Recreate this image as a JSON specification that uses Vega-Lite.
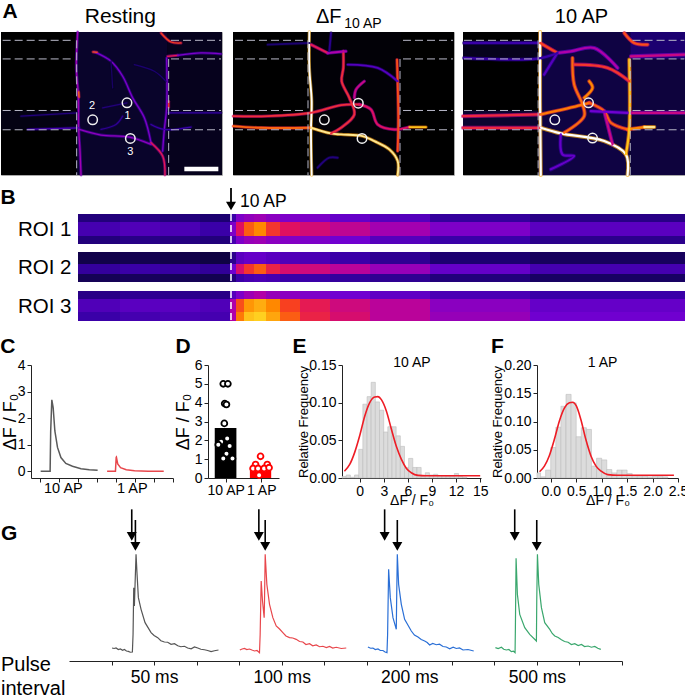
{
"$schema":"https://vega.github.io/schema/vega-lite/v6.json",
"padding":0,
"background":"white",
"config":{"font":"Liberation Sans","view":{"stroke":null},"axis":{"grid":false,"domainColor":"#222","tickColor":"#222","labelColor":"#000","titleColor":"#000","labelFontSize":14,"titleFontWeight":"normal","tickSize":4,"labelPadding":2,"labelOverlap":false,"labelFlush":false,"tickCount":30}},
"datasets":{
"a1":[
{"b":"a","x":230,"y":92,"v":0.48},{"b":"a","x":226,"y":200,"v":0.48},{"b":"a","x":232,"y":280,"v":0.48},{"b":"a","x":233,"y":380,"v":0.48},{"b":"a","x":237,"y":450,"v":0.48},{"b":"a","x":240,"y":522,"v":0.48},
{"b":"a2","x":233,"y":272,"v":0.75},{"b":"a2","x":234,"y":288,"v":0.75},
{"b":"c","x":280,"y":152,"v":0.42},{"b":"c","x":330,"y":180,"v":0.42},{"b":"c","x":365,"y":225,"v":0.42},{"b":"c","x":395,"y":290,"v":0.42},{"b":"c","x":430,"y":350,"v":0.42},{"b":"c","x":450,"y":425,"v":0.42},
{"b":"d","x":450,"y":425,"v":0.62},{"b":"d","x":485,"y":465,"v":0.62},{"b":"d","x":492,"y":522,"v":0.62},
{"b":"e","x":235,"y":385,"v":0.45},{"b":"e","x":300,"y":402,"v":0.45},{"b":"e","x":385,"y":408,"v":0.45},{"b":"e","x":450,"y":430,"v":0.45},
{"b":"f","x":480,"y":95,"v":0.7},{"b":"f","x":510,"y":122,"v":0.7},{"b":"f","x":540,"y":125,"v":0.7},
{"b":"g","x":500,"y":165,"v":0.62},{"b":"g","x":530,"y":162,"v":0.62},
{"b":"h","x":530,"y":162,"v":0.42},{"b":"h","x":600,"y":155,"v":0.42},{"b":"h","x":660,"y":158,"v":0.42},
{"b":"i","x":497,"y":170,"v":0.42},{"b":"i","x":497,"y":320,"v":0.42},{"b":"i","x":490,"y":385,"v":0.42},{"b":"i","x":485,"y":450,"v":0.42},
{"b":"i2","x":503,"y":300,"v":0.68},{"b":"i2","x":503,"y":318,"v":0.68},
{"b":"j","x":60,"y":345,"v":0.22},{"b":"j","x":230,"y":335,"v":0.22},
{"b":"k","x":80,"y":385,"v":0.33},{"b":"k","x":235,"y":380,"v":0.33},
{"b":"l","x":500,"y":335,"v":0.28},{"b":"l","x":660,"y":335,"v":0.28},
{"b":"m","x":450,"y":370,"v":0.3},{"b":"m","x":490,"y":385,"v":0.3},{"b":"m","x":570,"y":378,"v":0.3},
{"b":"n","x":305,"y":320,"v":0.22},{"b":"n","x":378,"y":305,"v":0.22},
{"b":"o","x":300,"y":385,"v":0.26},{"b":"o","x":345,"y":370,"v":0.26},{"b":"o","x":365,"y":345,"v":0.26},
{"b":"p","x":330,"y":180,"v":0.18},{"b":"p","x":335,"y":260,"v":0.18},
{"b":"q","x":400,"y":190,"v":0.2},{"b":"q","x":460,"y":210,"v":0.2},{"b":"q","x":495,"y":240,"v":0.2},
{"b":"r","x":276,"y":152,"v":0.72},{"b":"r","x":288,"y":153,"v":0.72}
],
"a2":[
{"b":"a","x":925,"y":92,"v":1},{"b":"a","x":925,"y":200,"v":1},{"b":"a","x":932,"y":300,"v":1},{"b":"a","x":930,"y":385,"v":1},{"b":"a","x":932,"y":522,"v":1},
{"b":"b","x":697,"y":345,"v":0.66},{"b":"b","x":800,"y":345,"v":0.66},{"b":"b","x":930,"y":335,"v":0.66},{"b":"b","x":1020,"y":312,"v":0.66},{"b":"b","x":1075,"y":310,"v":0.66},
{"b":"b2","x":1075,"y":310,"v":0.6},{"b":"b2","x":1110,"y":325,"v":0.6},{"b":"b2","x":1130,"y":370,"v":0.6},{"b":"b2","x":1180,"y":385,"v":0.6},{"b":"b2","x":1225,"y":378,"v":0.6},
{"b":"c","x":1225,"y":378,"v":0.88},{"b":"c","x":1275,"y":378,"v":0.88},
{"b":"d","x":697,"y":375,"v":0.75},{"b":"d","x":780,"y":380,"v":0.75},{"b":"d","x":930,"y":380,"v":0.75},
{"b":"e","x":930,"y":380,"v":0.95},{"b":"e","x":990,"y":397,"v":0.95},{"b":"e","x":1020,"y":400,"v":0.95},{"b":"e","x":1085,"y":405,"v":0.95},{"b":"e","x":1120,"y":420,"v":0.95},{"b":"e","x":1165,"y":445,"v":0.95},{"b":"e","x":1190,"y":480,"v":0.95},{"b":"e","x":1190,"y":522,"v":0.95},
{"b":"f","x":1027,"y":150,"v":0.66},{"b":"f","x":1027,"y":200,"v":0.66},{"b":"f","x":1022,"y":240,"v":0.66},{"b":"f","x":1045,"y":290,"v":0.66},{"b":"f","x":1060,"y":340,"v":0.66},{"b":"f","x":1020,"y":380,"v":0.66},{"b":"f","x":990,"y":397,"v":0.66},
{"b":"g","x":930,"y":130,"v":0.62},{"b":"g","x":980,"y":155,"v":0.62},
{"b":"g2","x":980,"y":155,"v":0.5},{"b":"g2","x":1035,"y":150,"v":0.5},
{"b":"g3","x":990,"y":95,"v":0.25},{"b":"g3","x":985,"y":150,"v":0.25},
{"b":"h","x":1060,"y":290,"v":0.55},{"b":"h","x":1065,"y":265,"v":0.55},{"b":"h","x":1090,"y":240,"v":0.55},
{"b":"i","x":1188,"y":175,"v":0.72},{"b":"i","x":1192,"y":350,"v":0.72},{"b":"i","x":1190,"y":450,"v":0.72},
{"b":"j","x":1040,"y":190,"v":0.35},{"b":"j","x":1130,"y":200,"v":0.35},{"b":"j","x":1190,"y":240,"v":0.35},
{"b":"k","x":950,"y":500,"v":0.22},{"b":"k","x":985,"y":470,"v":0.22},{"b":"k","x":1010,"y":470,"v":0.22},
{"b":"l","x":800,"y":130,"v":0.2},{"b":"l","x":925,"y":125,"v":0.2}
],
"a3":[
{"b":"a","x":598,"y":92,"v":1},{"b":"a","x":598,"y":300,"v":1},{"b":"a","x":600,"y":522,"v":1},
{"b":"b","x":367,"y":380,"v":0.65},{"b":"b","x":600,"y":380,"v":0.65},
{"b":"b2","x":600,"y":380,"v":1},{"b":"b2","x":660,"y":397,"v":1},{"b":"b2","x":790,"y":420,"v":1},{"b":"b2","x":855,"y":460,"v":1},{"b":"b2","x":860,"y":522,"v":1},
{"b":"c","x":367,"y":345,"v":0.65},{"b":"c","x":600,"y":340,"v":0.65},
{"b":"c2","x":600,"y":340,"v":0.78},{"b":"c2","x":720,"y":312,"v":0.78},{"b":"c2","x":745,"y":305,"v":0.78},
{"b":"c3","x":745,"y":305,"v":0.74},{"b":"c3","x":790,"y":330,"v":0.74},{"b":"c3","x":810,"y":365,"v":0.74},{"b":"c3","x":860,"y":385,"v":0.74},
{"b":"c4","x":860,"y":385,"v":0.8},{"b":"c4","x":910,"y":378,"v":0.8},
{"b":"c5","x":910,"y":378,"v":0.95},{"b":"c5","x":940,"y":378,"v":0.95},
{"b":"d","x":695,"y":170,"v":0.76},{"b":"d","x":700,"y":250,"v":0.76},{"b":"d","x":725,"y":310,"v":0.76},{"b":"d","x":730,"y":345,"v":0.76},{"b":"d","x":670,"y":395,"v":0.76},
{"b":"e","x":865,"y":175,"v":0.88},{"b":"e","x":865,"y":385,"v":0.88},{"b":"e","x":855,"y":460,"v":0.88},
{"b":"f","x":700,"y":190,"v":0.68},{"b":"f","x":800,"y":200,"v":0.68},{"b":"f","x":865,"y":240,"v":0.68},
{"b":"g","x":598,"y":125,"v":0.7},{"b":"g","x":650,"y":155,"v":0.7},
{"b":"g2","x":650,"y":155,"v":0.5},{"b":"g2","x":690,"y":150,"v":0.5},{"b":"g2","x":760,"y":140,"v":0.5},{"b":"g2","x":830,"y":200,"v":0.5},
{"b":"h","x":650,"y":155,"v":0.35},{"b":"h","x":610,"y":220,"v":0.35},
{"b":"i","x":790,"y":330,"v":0.55},{"b":"i","x":815,"y":430,"v":0.55},
{"b":"j","x":745,"y":240,"v":0.8},{"b":"j","x":755,"y":260,"v":0.8},{"b":"j","x":730,"y":290,"v":0.8},
{"b":"k","x":870,"y":165,"v":0.55},{"b":"k","x":1030,"y":160,"v":0.55},
{"b":"l","x":850,"y":95,"v":0.72},{"b":"l","x":880,"y":125,"v":0.72},{"b":"l","x":920,"y":130,"v":0.72},
{"b":"m","x":870,"y":335,"v":0.55},{"b":"m","x":1032,"y":335,"v":0.55},
{"b":"n","x":370,"y":125,"v":0.3},{"b":"n","x":590,"y":125,"v":0.3},
{"b":"o","x":370,"y":170,"v":0.3},{"b":"o","x":590,"y":172,"v":0.3},{"b":"o","x":650,"y":155,"v":0.3},
{"b":"p","x":660,"y":400,"v":0.38},{"b":"p","x":665,"y":460,"v":0.38},{"b":"p","x":700,"y":465,"v":0.38},{"b":"p","x":630,"y":505,"v":0.38},
{"b":"r","x":750,"y":330,"v":0.4},{"b":"r","x":860,"y":335,"v":0.4}
],
"cells":[
{"roi":1,"t0":-152,"t1":-110,"y0":0,"y1":8,"v":0.22},{"roi":1,"t0":-152,"t1":-110,"y0":8,"y1":22,"v":0.32},{"roi":1,"t0":-152,"t1":-110,"y0":22,"y1":30,"v":0.22},
{"roi":1,"t0":-110,"t1":-70,"y0":0,"y1":8,"v":0.24},{"roi":1,"t0":-110,"t1":-70,"y0":8,"y1":22,"v":0.34},{"roi":1,"t0":-110,"t1":-70,"y0":22,"y1":30,"v":0.24},
{"roi":1,"t0":-70,"t1":-30,"y0":0,"y1":8,"v":0.22},{"roi":1,"t0":-70,"t1":-30,"y0":8,"y1":22,"v":0.33},{"roi":1,"t0":-70,"t1":-30,"y0":22,"y1":30,"v":0.23},
{"roi":1,"t0":-30,"t1":0,"y0":0,"y1":8,"v":0.2},{"roi":1,"t0":-30,"t1":0,"y0":8,"y1":22,"v":0.3},{"roi":1,"t0":-30,"t1":0,"y0":22,"y1":30,"v":0.22},
{"roi":1,"t0":0,"t1":6,"y0":0,"y1":8,"v":0.3},{"roi":1,"t0":0,"t1":6,"y0":8,"y1":22,"v":0.42},{"roi":1,"t0":0,"t1":6,"y0":22,"y1":30,"v":0.32},
{"roi":1,"t0":6,"t1":14,"y0":0,"y1":8,"v":0.42},{"roi":1,"t0":6,"t1":14,"y0":8,"y1":22,"v":0.6},{"roi":1,"t0":6,"t1":14,"y0":22,"y1":30,"v":0.42},
{"roi":1,"t0":14,"t1":24,"y0":0,"y1":8,"v":0.45},{"roi":1,"t0":14,"t1":24,"y0":8,"y1":22,"v":0.74},{"roi":1,"t0":14,"t1":24,"y0":22,"y1":30,"v":0.46},
{"roi":1,"t0":24,"t1":36,"y0":0,"y1":8,"v":0.47},{"roi":1,"t0":24,"t1":36,"y0":8,"y1":22,"v":0.8},{"roi":1,"t0":24,"t1":36,"y0":22,"y1":30,"v":0.47},
{"roi":1,"t0":36,"t1":50,"y0":0,"y1":8,"v":0.44},{"roi":1,"t0":36,"t1":50,"y0":8,"y1":22,"v":0.68},{"roi":1,"t0":36,"t1":50,"y0":22,"y1":30,"v":0.44},
{"roi":1,"t0":50,"t1":70,"y0":0,"y1":8,"v":0.42},{"roi":1,"t0":50,"t1":70,"y0":8,"y1":22,"v":0.6},{"roi":1,"t0":50,"t1":70,"y0":22,"y1":30,"v":0.43},
{"roi":1,"t0":70,"t1":100,"y0":0,"y1":8,"v":0.42},{"roi":1,"t0":70,"t1":100,"y0":8,"y1":22,"v":0.57},{"roi":1,"t0":70,"t1":100,"y0":22,"y1":30,"v":0.42},
{"roi":1,"t0":100,"t1":140,"y0":0,"y1":8,"v":0.38},{"roi":1,"t0":100,"t1":140,"y0":8,"y1":22,"v":0.53},{"roi":1,"t0":100,"t1":140,"y0":22,"y1":30,"v":0.4},
{"roi":1,"t0":140,"t1":200,"y0":0,"y1":8,"v":0.35},{"roi":1,"t0":140,"t1":200,"y0":8,"y1":22,"v":0.48},{"roi":1,"t0":140,"t1":200,"y0":22,"y1":30,"v":0.35},
{"roi":1,"t0":200,"t1":300,"y0":0,"y1":8,"v":0.28},{"roi":1,"t0":200,"t1":300,"y0":8,"y1":22,"v":0.42},{"roi":1,"t0":200,"t1":300,"y0":22,"y1":30,"v":0.3},
{"roi":1,"t0":300,"t1":456,"y0":0,"y1":8,"v":0.24},{"roi":1,"t0":300,"t1":456,"y0":8,"y1":22,"v":0.36},{"roi":1,"t0":300,"t1":456,"y0":22,"y1":30,"v":0.25},
{"roi":2,"t0":-152,"t1":-110,"y0":38,"y1":50,"v":0.14},{"roi":2,"t0":-152,"t1":-110,"y0":50,"y1":60,"v":0.28},{"roi":2,"t0":-152,"t1":-110,"y0":60,"y1":68,"v":0.16},
{"roi":2,"t0":-110,"t1":-70,"y0":38,"y1":50,"v":0.15},{"roi":2,"t0":-110,"t1":-70,"y0":50,"y1":60,"v":0.3},{"roi":2,"t0":-110,"t1":-70,"y0":60,"y1":68,"v":0.17},
{"roi":2,"t0":-70,"t1":-30,"y0":38,"y1":50,"v":0.14},{"roi":2,"t0":-70,"t1":-30,"y0":50,"y1":60,"v":0.29},{"roi":2,"t0":-70,"t1":-30,"y0":60,"y1":68,"v":0.16},
{"roi":2,"t0":-30,"t1":0,"y0":38,"y1":50,"v":0.13},{"roi":2,"t0":-30,"t1":0,"y0":50,"y1":60,"v":0.27},{"roi":2,"t0":-30,"t1":0,"y0":60,"y1":68,"v":0.15},
{"roi":2,"t0":0,"t1":6,"y0":38,"y1":50,"v":0.25},{"roi":2,"t0":0,"t1":6,"y0":50,"y1":60,"v":0.4},{"roi":2,"t0":0,"t1":6,"y0":60,"y1":68,"v":0.22},
{"roi":2,"t0":6,"t1":14,"y0":38,"y1":50,"v":0.36},{"roi":2,"t0":6,"t1":14,"y0":50,"y1":60,"v":0.58},{"roi":2,"t0":6,"t1":14,"y0":60,"y1":68,"v":0.3},
{"roi":2,"t0":14,"t1":24,"y0":38,"y1":50,"v":0.38},{"roi":2,"t0":14,"t1":24,"y0":50,"y1":60,"v":0.68},{"roi":2,"t0":14,"t1":24,"y0":60,"y1":68,"v":0.32},
{"roi":2,"t0":24,"t1":36,"y0":38,"y1":50,"v":0.38},{"roi":2,"t0":24,"t1":36,"y0":50,"y1":60,"v":0.74},{"roi":2,"t0":24,"t1":36,"y0":60,"y1":68,"v":0.33},
{"roi":2,"t0":36,"t1":50,"y0":38,"y1":50,"v":0.36},{"roi":2,"t0":36,"t1":50,"y0":50,"y1":60,"v":0.64},{"roi":2,"t0":36,"t1":50,"y0":60,"y1":68,"v":0.32},
{"roi":2,"t0":50,"t1":70,"y0":38,"y1":50,"v":0.34},{"roi":2,"t0":50,"t1":70,"y0":50,"y1":60,"v":0.58},{"roi":2,"t0":50,"t1":70,"y0":60,"y1":68,"v":0.3},
{"roi":2,"t0":70,"t1":100,"y0":38,"y1":50,"v":0.33},{"roi":2,"t0":70,"t1":100,"y0":50,"y1":60,"v":0.56},{"roi":2,"t0":70,"t1":100,"y0":60,"y1":68,"v":0.3},
{"roi":2,"t0":100,"t1":140,"y0":38,"y1":50,"v":0.3},{"roi":2,"t0":100,"t1":140,"y0":50,"y1":60,"v":0.52},{"roi":2,"t0":100,"t1":140,"y0":60,"y1":68,"v":0.28},
{"roi":2,"t0":140,"t1":200,"y0":38,"y1":50,"v":0.26},{"roi":2,"t0":140,"t1":200,"y0":50,"y1":60,"v":0.46},{"roi":2,"t0":140,"t1":200,"y0":60,"y1":68,"v":0.26},
{"roi":2,"t0":200,"t1":300,"y0":38,"y1":50,"v":0.2},{"roi":2,"t0":200,"t1":300,"y0":50,"y1":60,"v":0.38},{"roi":2,"t0":200,"t1":300,"y0":60,"y1":68,"v":0.22},
{"roi":2,"t0":300,"t1":456,"y0":38,"y1":50,"v":0.17},{"roi":2,"t0":300,"t1":456,"y0":50,"y1":60,"v":0.32},{"roi":2,"t0":300,"t1":456,"y0":60,"y1":68,"v":0.18},
{"roi":3,"t0":-152,"t1":-110,"y0":77,"y1":85,"v":0.24},{"roi":3,"t0":-152,"t1":-110,"y0":85,"y1":98,"v":0.34},{"roi":3,"t0":-152,"t1":-110,"y0":98,"y1":107,"v":0.3},
{"roi":3,"t0":-110,"t1":-70,"y0":77,"y1":85,"v":0.26},{"roi":3,"t0":-110,"t1":-70,"y0":85,"y1":98,"v":0.36},{"roi":3,"t0":-110,"t1":-70,"y0":98,"y1":107,"v":0.32},
{"roi":3,"t0":-70,"t1":-30,"y0":77,"y1":85,"v":0.25},{"roi":3,"t0":-70,"t1":-30,"y0":85,"y1":98,"v":0.36},{"roi":3,"t0":-70,"t1":-30,"y0":98,"y1":107,"v":0.33},
{"roi":3,"t0":-30,"t1":0,"y0":77,"y1":85,"v":0.24},{"roi":3,"t0":-30,"t1":0,"y0":85,"y1":98,"v":0.34},{"roi":3,"t0":-30,"t1":0,"y0":98,"y1":107,"v":0.32},
{"roi":3,"t0":0,"t1":6,"y0":77,"y1":85,"v":0.35},{"roi":3,"t0":0,"t1":6,"y0":85,"y1":98,"v":0.5},{"roi":3,"t0":0,"t1":6,"y0":98,"y1":107,"v":0.5},
{"roi":3,"t0":6,"t1":14,"y0":77,"y1":85,"v":0.42},{"roi":3,"t0":6,"t1":14,"y0":85,"y1":98,"v":0.72},{"roi":3,"t0":6,"t1":14,"y0":98,"y1":107,"v":0.78},
{"roi":3,"t0":14,"t1":24,"y0":77,"y1":85,"v":0.47},{"roi":3,"t0":14,"t1":24,"y0":85,"y1":98,"v":0.82},{"roi":3,"t0":14,"t1":24,"y0":98,"y1":107,"v":0.88},
{"roi":3,"t0":24,"t1":36,"y0":77,"y1":85,"v":0.5},{"roi":3,"t0":24,"t1":36,"y0":85,"y1":98,"v":0.85},{"roi":3,"t0":24,"t1":36,"y0":98,"y1":107,"v":0.9},
{"roi":3,"t0":36,"t1":50,"y0":77,"y1":85,"v":0.46},{"roi":3,"t0":36,"t1":50,"y0":85,"y1":98,"v":0.8},{"roi":3,"t0":36,"t1":50,"y0":98,"y1":107,"v":0.84},
{"roi":3,"t0":50,"t1":70,"y0":77,"y1":85,"v":0.44},{"roi":3,"t0":50,"t1":70,"y0":85,"y1":98,"v":0.7},{"roi":3,"t0":50,"t1":70,"y0":98,"y1":107,"v":0.74},
{"roi":3,"t0":70,"t1":100,"y0":77,"y1":85,"v":0.42},{"roi":3,"t0":70,"t1":100,"y0":85,"y1":98,"v":0.62},{"roi":3,"t0":70,"t1":100,"y0":98,"y1":107,"v":0.64},
{"roi":3,"t0":100,"t1":140,"y0":77,"y1":85,"v":0.4},{"roi":3,"t0":100,"t1":140,"y0":85,"y1":98,"v":0.56},{"roi":3,"t0":100,"t1":140,"y0":98,"y1":107,"v":0.58},
{"roi":3,"t0":140,"t1":200,"y0":77,"y1":85,"v":0.37},{"roi":3,"t0":140,"t1":200,"y0":85,"y1":98,"v":0.52},{"roi":3,"t0":140,"t1":200,"y0":98,"y1":107,"v":0.52},
{"roi":3,"t0":200,"t1":300,"y0":77,"y1":85,"v":0.33},{"roi":3,"t0":200,"t1":300,"y0":85,"y1":98,"v":0.44},{"roi":3,"t0":200,"t1":300,"y0":98,"y1":107,"v":0.46},
{"roi":3,"t0":300,"t1":456,"y0":77,"y1":85,"v":0.3},{"roi":3,"t0":300,"t1":456,"y0":85,"y1":98,"v":0.38},{"roi":3,"t0":300,"t1":456,"y0":98,"y1":107,"v":0.4}
]
},
"spacing":0,
"vconcat":[
{"hconcat":[
{"width":221,"height":143,"view":{"stroke":"#aaa"},
 "layer":[
 {"data":{"values":[{"x":0,"x2":663,"y":92,"y2":522,"v":0},{"x":227,"x2":500,"y":92,"y2":522,"v":0.09},{"x":500,"x2":663,"y":92,"y2":522,"v":0.06},{"x":0,"x2":227,"y":328,"y2":386,"v":0.04},{"x":550,"x2":652,"y":497,"y2":511,"v":1}]},
  "mark":{"type":"rect"},"encoding":{"x":{"field":"x","type":"quantitative","axis":null,"scale":{"domain":[0,663],"nice":false,"zero":false}},"y":{"field":"y","type":"quantitative","axis":null,"scale":{"domain":[522,92],"nice":false,"zero":false}},"x2":{"field":"x2"},"y2":{"field":"y2"},"color":{"field":"v","type":"quantitative","legend":null,"scale":{"interpolate":"rgb","domain":[0,0.1,0.2,0.3,0.4,0.5,0.6,0.7,0.8,0.9,1],"range":["#000000","#0a0430","#1c0070","#3a00a8","#7000d0","#b000a8","#e01060","#f84020","#ff8800","#ffd020","#ffffff"]}}}},
 {"data":{"name":"a1"},"mark":{"type":"line","strokeWidth":3,"opacity":0.55,"strokeCap":"round","strokeJoin":"round","interpolate":"catmull-rom"},"encoding":{"x":{"field":"x","type":"quantitative","axis":null},"y":{"field":"y","type":"quantitative","axis":null},"order":{"value":null},"detail":{"field":"b"},"stroke":{"field":"v","type":"quantitative","legend":null,"scale":{"interpolate":"rgb","domain":[0,0.1,0.2,0.3,0.4,0.5,0.6,0.7,0.8,0.9,1],"range":["#000000","#000000","#0a0430","#1c0070","#3a00a8","#7000d0","#b000a8","#e01060","#f84020","#ff8800","#ffb010"]}}}},
 {"data":{"name":"a1"},"mark":{"type":"line","strokeWidth":1.3,"strokeCap":"round","strokeJoin":"round","interpolate":"catmull-rom"},"encoding":{"x":{"field":"x","type":"quantitative","axis":null},"y":{"field":"y","type":"quantitative","axis":null},"order":{"value":null},"detail":{"field":"b"},"color":{"field":"v","type":"quantitative","legend":null,"scale":{"interpolate":"rgb","domain":[0,0.1,0.2,0.3,0.4,0.5,0.6,0.7,0.8,0.9,1],"range":["#000000","#0a0430","#1c0070","#3a00a8","#7000d0","#b000a8","#e01060","#f84020","#ff8800","#ffd020","#ffffff"]}}}},
 {"data":{"values":[{"x":5,"x2":220,"y":117,"y2":117},{"x":5,"x2":220,"y":173,"y2":173},{"x":5,"x2":220,"y":328,"y2":328},{"x":5,"x2":220,"y":386,"y2":386},{"x":510,"x2":660,"y":117,"y2":117},{"x":510,"x2":660,"y":173,"y2":173},{"x":510,"x2":660,"y":328,"y2":328},{"x":510,"x2":660,"y":386,"y2":386},{"x":227,"x2":227,"y":117,"y2":522},{"x":503,"x2":503,"y":173,"y2":522}]},
  "mark":{"type":"rule","stroke":"#b8b8c8","strokeWidth":1,"strokeDash":[8,4]},"encoding":{"x":{"field":"x","type":"quantitative","axis":null},"y":{"field":"y","type":"quantitative","axis":null},"x2":{"field":"x2"},"y2":{"field":"y2"}}},
 {"data":{"values":[{"x":378,"y":305},{"x":275,"y":356},{"x":388,"y":412}]},"mark":{"type":"point","shape":"circle","size":90,"stroke":"#f0f0f0","strokeWidth":1.5,"opacity":1},"encoding":{"x":{"field":"x","type":"quantitative","axis":null},"y":{"field":"y","type":"quantitative","axis":null}}},
 {"data":{"values":[{"x":273,"y":316,"label":"2"},{"x":380,"y":346,"label":"1"},{"x":388,"y":453,"label":"3"}]},"mark":{"type":"text","color":"#fff","fontSize":11},"encoding":{"x":{"field":"x","type":"quantitative","axis":null},"y":{"field":"y","type":"quantitative","axis":null},"text":{"field":"label"}}},
 {"data":{"values":[{}]},"mark":{"type":"text","fontSize":21,"fontWeight":"bold","color":"#000"},"encoding":{"x":{"datum":27,"type":"quantitative","axis":null},"y":{"datum":31,"type":"quantitative","axis":null},"text":{"value":"A"}}},
 {"data":{"values":[{}]},"mark":{"type":"text","fontSize":21,"color":"#000"},"encoding":{"x":{"datum":358,"type":"quantitative","axis":null},"y":{"datum":48,"type":"quantitative","axis":null},"text":{"value":"Resting"}}}
 ]},
{"width":11,"height":1,"data":{"values":[]},"mark":"point","encoding":{}},
{"width":221,"height":143,"view":{"stroke":"#aaa"},
 "layer":[
 {"data":{"values":[{"x":696,"x2":1359,"y":92,"y2":522,"v":0},{"x":923,"x2":1199,"y":92,"y2":522,"v":0.015}]},
  "mark":{"type":"rect"},"encoding":{"x":{"field":"x","type":"quantitative","axis":null,"scale":{"domain":[696,1359],"nice":false,"zero":false}},"y":{"field":"y","type":"quantitative","axis":null,"scale":{"domain":[522,92],"nice":false,"zero":false}},"x2":{"field":"x2"},"y2":{"field":"y2"},"color":{"field":"v","type":"quantitative","legend":null,"scale":{"interpolate":"rgb","domain":[0,0.1,0.2,0.3,0.4,0.5,0.6,0.7,0.8,0.9,1],"range":["#000000","#0a0430","#1c0070","#3a00a8","#7000d0","#b000a8","#e01060","#f84020","#ff8800","#ffd020","#ffffff"]}}}},
 {"data":{"name":"a2"},"mark":{"type":"line","strokeWidth":3.4,"opacity":0.6,"strokeCap":"round","strokeJoin":"round","interpolate":"catmull-rom"},"encoding":{"x":{"field":"x","type":"quantitative","axis":null},"y":{"field":"y","type":"quantitative","axis":null},"order":{"value":null},"detail":{"field":"b"},"stroke":{"field":"v","type":"quantitative","legend":null,"scale":{"interpolate":"rgb","domain":[0,0.1,0.2,0.3,0.4,0.5,0.6,0.7,0.8,0.9,1],"range":["#000000","#000000","#0a0430","#1c0070","#3a00a8","#7000d0","#b000a8","#e01060","#f84020","#ff8800","#ffb010"]}}}},
 {"data":{"name":"a2"},"mark":{"type":"line","strokeWidth":1.9,"strokeCap":"round","strokeJoin":"round","interpolate":"catmull-rom"},"encoding":{"x":{"field":"x","type":"quantitative","axis":null},"y":{"field":"y","type":"quantitative","axis":null},"order":{"value":null},"detail":{"field":"b"},"color":{"field":"v","type":"quantitative","legend":null,"scale":{"interpolate":"rgb","domain":[0,0.1,0.2,0.3,0.4,0.5,0.6,0.7,0.8,0.9,1],"range":["#000000","#0a0430","#1c0070","#3a00a8","#7000d0","#b000a8","#e01060","#f84020","#ff8800","#ffd020","#ffffff"]}}}},
 {"data":{"values":[{"x":702,"x2":917,"y":117,"y2":117},{"x":702,"x2":917,"y":173,"y2":173},{"x":702,"x2":917,"y":328,"y2":328},{"x":702,"x2":917,"y":386,"y2":386},{"x":1206,"x2":1356,"y":117,"y2":117},{"x":1206,"x2":1356,"y":173,"y2":173},{"x":1206,"x2":1356,"y":328,"y2":328},{"x":1206,"x2":1356,"y":386,"y2":386},{"x":921,"x2":921,"y":117,"y2":522},{"x":1197,"x2":1197,"y":173,"y2":522}]},
  "mark":{"type":"rule","stroke":"#b8b8c8","strokeWidth":1,"strokeDash":[8,4]},"encoding":{"x":{"field":"x","type":"quantitative","axis":null},"y":{"field":"y","type":"quantitative","axis":null},"x2":{"field":"x2"},"y2":{"field":"y2"}}},
 {"data":{"values":[{"x":970,"y":356},{"x":1072,"y":306},{"x":1083,"y":412}]},"mark":{"type":"point","shape":"circle","size":90,"stroke":"#f0f0f0","strokeWidth":1.5,"opacity":1},"encoding":{"x":{"field":"x","type":"quantitative","axis":null},"y":{"field":"y","type":"quantitative","axis":null}}},
 {"data":{"values":[{}]},"mark":{"type":"text","fontSize":20,"align":"left","color":"#000"},"encoding":{"x":{"datum":945,"type":"quantitative","axis":null},"y":{"datum":48,"type":"quantitative","axis":null},"text":{"value":"ΔF"}}},
 {"data":{"values":[{}]},"mark":{"type":"text","fontSize":14,"align":"left","color":"#000"},"encoding":{"x":{"datum":1030,"type":"quantitative","axis":null},"y":{"datum":68,"type":"quantitative","axis":null},"text":{"value":"10 AP"}}}
 ]},
{"width":9,"height":1,"data":{"values":[]},"mark":"point","encoding":{}},
{"width":222,"height":143,"view":{"stroke":"#aaa"},
 "layer":[
 {"data":{"values":[{"x":367,"x2":1032,"y":92,"y2":522,"v":0},{"x":592,"x2":868,"y":92,"y2":522,"v":0.13},{"x":868,"x2":1032,"y":173,"y2":522,"v":0.12},{"x":868,"x2":1032,"y":92,"y2":173,"v":0.2},{"x":367,"x2":592,"y":328,"y2":386,"v":0.1},{"x":367,"x2":592,"y":117,"y2":173,"v":0.06}]},
  "mark":{"type":"rect"},"encoding":{"x":{"field":"x","type":"quantitative","axis":null,"scale":{"domain":[367,1032],"nice":false,"zero":false}},"y":{"field":"y","type":"quantitative","axis":null,"scale":{"domain":[522,92],"nice":false,"zero":false}},"x2":{"field":"x2"},"y2":{"field":"y2"},"color":{"field":"v","type":"quantitative","legend":null,"scale":{"interpolate":"rgb","domain":[0,0.1,0.2,0.3,0.4,0.5,0.6,0.7,0.8,0.9,1],"range":["#000000","#0a0430","#1c0070","#3a00a8","#7000d0","#b000a8","#e01060","#f84020","#ff8800","#ffd020","#ffffff"]}}}},
 {"data":{"name":"a3"},"mark":{"type":"line","strokeWidth":4,"opacity":0.65,"strokeCap":"round","strokeJoin":"round","interpolate":"catmull-rom"},"encoding":{"x":{"field":"x","type":"quantitative","axis":null},"y":{"field":"y","type":"quantitative","axis":null},"order":{"value":null},"detail":{"field":"b"},"stroke":{"field":"v","type":"quantitative","legend":null,"scale":{"interpolate":"rgb","domain":[0,0.1,0.2,0.3,0.4,0.5,0.6,0.7,0.8,0.9,1],"range":["#000000","#000000","#0a0430","#1c0070","#3a00a8","#7000d0","#b000a8","#e01060","#f84020","#ff8800","#ffb010"]}}}},
 {"data":{"name":"a3"},"mark":{"type":"line","strokeWidth":2.2,"strokeCap":"round","strokeJoin":"round","interpolate":"catmull-rom"},"encoding":{"x":{"field":"x","type":"quantitative","axis":null},"y":{"field":"y","type":"quantitative","axis":null},"order":{"value":null},"detail":{"field":"b"},"color":{"field":"v","type":"quantitative","legend":null,"scale":{"interpolate":"rgb","domain":[0,0.1,0.2,0.3,0.4,0.5,0.6,0.7,0.8,0.9,1],"range":["#000000","#0a0430","#1c0070","#3a00a8","#7000d0","#b000a8","#e01060","#f84020","#ff8800","#ffd020","#ffffff"]}}}},
 {"data":{"values":[{"x":370,"x2":585,"y":117,"y2":117},{"x":370,"x2":585,"y":173,"y2":173},{"x":370,"x2":585,"y":328,"y2":328},{"x":370,"x2":585,"y":386,"y2":386},{"x":875,"x2":1030,"y":117,"y2":117},{"x":875,"x2":1030,"y":173,"y2":173},{"x":875,"x2":1030,"y":328,"y2":328},{"x":875,"x2":1030,"y":386,"y2":386},{"x":592,"x2":592,"y":117,"y2":522},{"x":868,"x2":868,"y":173,"y2":522}]},
  "mark":{"type":"rule","stroke":"#b8b8c8","strokeWidth":1,"strokeDash":[8,4]},"encoding":{"x":{"field":"x","type":"quantitative","axis":null},"y":{"field":"y","type":"quantitative","axis":null},"x2":{"field":"x2"},"y2":{"field":"y2"}}},
 {"data":{"values":[{"x":642,"y":356},{"x":743,"y":305},{"x":755,"y":411}]},"mark":{"type":"point","shape":"circle","size":90,"stroke":"#f0f0f0","strokeWidth":1.5,"opacity":1},"encoding":{"x":{"field":"x","type":"quantitative","axis":null},"y":{"field":"y","type":"quantitative","axis":null}}},
 {"data":{"values":[{}]},"mark":{"type":"text","fontSize":20,"color":"#000"},"encoding":{"x":{"datum":722,"type":"quantitative","axis":null},"y":{"datum":48,"type":"quantitative","axis":null},"text":{"value":"10 AP"}}}
 ]}
],"spacing":0,"bounds":"flush"},

{"width":1,"height":9,"data":{"values":[]},"mark":"point","encoding":{}},

{"hconcat":[
{"width":77,"height":1,"data":{"values":[]},"mark":"point","encoding":{}},
{"width":608,"height":107,
 "layer":[
 {"data":{"name":"cells"},"mark":{"type":"rect"},"encoding":{"x":{"field":"t0","type":"quantitative","axis":null,"scale":{"domain":[-152,456],"nice":false,"zero":false}},"x2":{"field":"t1"},"y":{"field":"y0","type":"quantitative","scale":{"domain":[0,107],"reverse":true,"nice":false,"zero":false},"axis":{"title":null,"values":[15,53,92],"labelExpr":"datum.value<30?'ROI 1':datum.value<70?'ROI 2':'ROI 3'","labelFontSize":20.5,"labelOverlap":false,"domain":false,"ticks":false,"labelPadding":7}},"y2":{"field":"y1"},"color":{"field":"v","type":"quantitative","legend":null,"scale":{"interpolate":"rgb","domain":[0,0.1,0.2,0.3,0.4,0.5,0.6,0.7,0.8,0.9,1],"range":["#000000","#0a0430","#1c0070","#3a00a8","#7000d0","#b000a8","#e01060","#f84020","#ff8800","#ffd020","#ffffff"]}}}},
 {"data":{"values":[{"t":1,"a":0,"b":30},{"t":1,"a":38,"b":68},{"t":1,"a":77,"b":107}]},"mark":{"type":"rule","stroke":"#fff","strokeWidth":1.5,"strokeDash":[7,4]},"encoding":{"x":{"field":"t","type":"quantitative","axis":null},"y":{"field":"a","type":"quantitative"},"y2":{"field":"b"}}},
 {"data":{"values":[{"t":1,"a":-26,"b":-10}]},"mark":{"type":"rule","stroke":"#000","strokeWidth":1.8},"encoding":{"x":{"field":"t","type":"quantitative","axis":null},"y":{"field":"a","type":"quantitative"},"y2":{"field":"b"}}},
 {"data":{"values":[{"t":1,"a":-8}]},"mark":{"type":"point","shape":"triangle-down","size":100,"filled":true,"color":"#000","opacity":1},"encoding":{"x":{"field":"t","type":"quantitative","axis":null},"y":{"field":"a","type":"quantitative"}}},
 {"data":{"values":[{}]},"mark":{"type":"text","fontSize":17.5,"align":"left","color":"#000"},"encoding":{"x":{"datum":10,"type":"quantitative","axis":null},"y":{"datum":-12,"type":"quantitative"},"text":{"value":"10 AP"}}},
 {"data":{"values":[{}]},"mark":{"type":"text","fontSize":21,"fontWeight":"bold","color":"#000"},"encoding":{"x":{"datum":-222,"type":"quantitative","axis":null},"y":{"datum":-16,"type":"quantitative"},"text":{"value":"B"}}}
 ]}
],"spacing":0,"bounds":"flush"},

{"width":1,"height":13,"data":{"values":[]},"mark":"point","encoding":{}},

{"hconcat":[
{"width":30,"height":1,"data":{"values":[]},"mark":"point","encoding":{}},
{"width":142,"height":113,
 "layer":[
 {"data":{"values":[{"c":"10 AP","t":0.51,"f":0},{"c":"10 AP","t":1.01,"f":0},{"c":"10 AP","t":1.04,"f":1.52},{"c":"10 AP","t":1.1,"f":2.69},{"c":"10 AP","t":1.17,"f":2.4},{"c":"10 AP","t":1.26,"f":1.52},{"c":"10 AP","t":1.4,"f":0.9},{"c":"10 AP","t":1.58,"f":0.52},{"c":"10 AP","t":1.84,"f":0.3},{"c":"10 AP","t":2.19,"f":0.19},{"c":"10 AP","t":2.64,"f":0.1},{"c":"10 AP","t":3.08,"f":0.06},{"c":"10 AP","t":3.52,"f":0.04}]},"mark":{"type":"line","color":"#5a5a5a","strokeWidth":1.5},"encoding":{"x":{"field":"t","type":"quantitative","scale":{"domain":[0,7.5],"nice":false,"zero":false},"axis":{"title":null,"tickCount":30,"values":[0.5,1.5,2.5,3.5,4.5,5.5,6.5,7.5],"labels":false}},"y":{"field":"f","type":"quantitative","scale":{"domain":[-0.25,4],"nice":false,"zero":false},"axis":{"title":"ΔF / F₀","titleFontSize":18,"titlePadding":-2,"labelOverlap":false,"tickCount":30,"format":".0f","values":[0,1,2,3,4]}}}},
 {"data":{"values":[{"c":"1 AP","t":4.02,"f":0},{"c":"1 AP","t":4.46,"f":0},{"c":"1 AP","t":4.5,"f":0.53},{"c":"1 AP","t":4.51,"f":0.54},{"c":"1 AP","t":4.58,"f":0.28},{"c":"1 AP","t":4.73,"f":0.14},{"c":"1 AP","t":5.03,"f":0.06},{"c":"1 AP","t":5.47,"f":0.025},{"c":"1 AP","t":6.18,"f":0},{"c":"1 AP","t":7.01,"f":0}]},"mark":{"type":"line","color":"#e8474c","strokeWidth":1.5},"encoding":{"x":{"field":"t","type":"quantitative"},"y":{"field":"f","type":"quantitative"}}},
 {"data":{"values":[{"t":1.71,"f":-0.66,"c":"10 AP"},{"t":5.35,"f":-0.66,"c":"1 AP"}]},"mark":{"type":"text","fontSize":14.5,"color":"#000"},"encoding":{"x":{"field":"t","type":"quantitative"},"y":{"field":"f","type":"quantitative"},"text":{"field":"c"}}},
 {"data":{"values":[{}]},"mark":{"type":"text","fontSize":21,"fontWeight":"bold","color":"#000"},"encoding":{"x":{"datum":-1.22,"type":"quantitative"},"y":{"datum":4.68,"type":"quantitative"},"text":{"value":"C"}}}
 ]},
{"width":35,"height":1,"data":{"values":[]},"mark":"point","encoding":{}},
{"width":71,"height":113,
 "layer":[
 {"data":{"values":[{"c":"10 AP","a":0.19,"b":0.8,"f":2.65},{"c":"1 AP","a":1.18,"b":1.78,"f":0.55}]},"mark":{"type":"rect"},"encoding":{"x":{"field":"a","type":"quantitative","scale":{"domain":[0,2],"nice":false,"zero":false},"axis":{"title":null,"values":[0.5,1.5],"labelExpr":"datum.value<1?'10 AP':'1 AP'","labelFontSize":14,"labelOverlap":false,"labelPadding":1}},"x2":{"field":"b"},"y":{"field":"f","type":"quantitative","scale":{"domain":[0,6],"nice":false},"axis":{"title":"ΔF / F₀","titleFontSize":18,"titlePadding":2,"labelOverlap":false,"tickCount":30,"format":".0f","values":[0,1,2,3,4,5,6]}},"y2":{"datum":0},"color":{"field":"c","type":"nominal","legend":null,"scale":{"domain":["10 AP","1 AP"],"range":["#000000","#ff0000"]}}}},
 {"data":{"values":[{"c":"10 AP","x":0.43,"f":5.0},{"c":"10 AP","x":0.56,"f":5.0},{"c":"10 AP","x":0.47,"f":3.95},{"c":"10 AP","x":0.52,"f":3.9},{"c":"10 AP","x":0.46,"f":2.9},{"c":"10 AP","x":0.54,"f":2.1},{"c":"10 AP","x":0.37,"f":1.93},{"c":"10 AP","x":0.29,"f":1.77},{"c":"10 AP","x":0.61,"f":1.7},{"c":"10 AP","x":0.52,"f":1.29},{"c":"10 AP","x":0.43,"f":1.04},{"c":"10 AP","x":0.69,"f":1.03},{"c":"1 AP","x":1.48,"f":1.15},{"c":"1 AP","x":1.34,"f":0.72},{"c":"1 AP","x":1.67,"f":0.72},{"c":"1 AP","x":1.27,"f":0.51},{"c":"1 AP","x":1.41,"f":0.51},{"c":"1 AP","x":1.58,"f":0.51},{"c":"1 AP","x":1.72,"f":0.55},{"c":"1 AP","x":1.44,"f":0.15}]},
  "mark":{"type":"point","shape":"circle","filled":true,"fill":"#fff","size":34,"strokeWidth":1.8,"opacity":1},"encoding":{"x":{"field":"x","type":"quantitative"},"y":{"field":"f","type":"quantitative"},"stroke":{"field":"c","type":"nominal","legend":null,"scale":{"domain":["10 AP","1 AP"],"range":["#000000","#ff0000"]}}}},
 {"data":{"values":[{}]},"mark":{"type":"text","fontSize":21,"fontWeight":"bold","color":"#000"},"encoding":{"x":{"datum":-0.7,"type":"quantitative"},"y":{"datum":6.96,"type":"quantitative"},"text":{"value":"D"}}}
 ]},
{"width":63,"height":1,"data":{"values":[]},"mark":"point","encoding":{}},
{"width":139,"height":113,
 "layer":[
 {"data":{"values":[{"a":-2.19,"b":-1.67,"f":0.002},{"a":-1.67,"b":-1.16,"f":0.004},{"a":-1.16,"b":-0.64,"f":0.001},{"a":-0.64,"b":-0.12,"f":0.004},{"a":-0.12,"b":0.4,"f":0.038},{"a":0.4,"b":0.92,"f":0.098},{"a":0.92,"b":1.43,"f":0.108},{"a":1.43,"b":1.95,"f":0.127},{"a":1.95,"b":2.47,"f":0.101},{"a":2.47,"b":2.99,"f":0.09},{"a":2.99,"b":3.5,"f":0.061},{"a":3.5,"b":4.02,"f":0.068},{"a":4.02,"b":4.54,"f":0.068},{"a":4.54,"b":5.06,"f":0.056},{"a":5.06,"b":5.58,"f":0.042},{"a":5.58,"b":6.09,"f":0.014},{"a":6.09,"b":6.61,"f":0.026},{"a":6.61,"b":7.13,"f":0.014},{"a":7.13,"b":7.65,"f":0.014},{"a":7.65,"b":8.17,"f":0.002},{"a":8.17,"b":8.68,"f":0.007},{"a":8.68,"b":9.2,"f":0.004},{"a":9.2,"b":9.72,"f":0.005},{"a":9.72,"b":10.24,"f":0.003},{"a":10.24,"b":10.75,"f":0.003},{"a":10.75,"b":11.27,"f":0.002},{"a":11.27,"b":11.79,"f":0.002},{"a":11.79,"b":12.3,"f":0.006},{"a":12.3,"b":12.82,"f":0.002},{"a":12.82,"b":13.34,"f":0.001}]},
  "mark":{"type":"rect","fill":"#dcdcdc","stroke":"#bdbdbd","strokeWidth":0.6},"encoding":{"x":{"field":"a","type":"quantitative","scale":{"domain":[-2.2,15.1],"nice":false,"zero":false},"axis":{"title":"ΔF / F₀","titleFontSize":14,"titlePadding":-5,"labelOverlap":false,"tickCount":30,"format":".0f","values":[0,3,6,9,12,15]}},"x2":{"field":"b"},"y":{"field":"f","type":"quantitative","scale":{"domain":[0,0.15],"nice":false},"axis":{"title":"Relative Frequency","titleFontSize":13,"titlePadding":-2,"labelOverlap":false,"tickCount":30,"values":[0,0.05,0.1,0.15],"format":".2f"}},"y2":{"datum":0}}},
 {"data":{"values":[{"x":-1.9,"f":0.009},{"x":-1.24,"f":0.018},{"x":-0.62,"f":0.034},{"x":0,"f":0.056},{"x":0.63,"f":0.082},{"x":1.25,"f":0.1},{"x":1.87,"f":0.1075},{"x":2.28,"f":0.108},{"x":2.7,"f":0.104},{"x":3.32,"f":0.089},{"x":3.94,"f":0.065},{"x":4.56,"f":0.042},{"x":5.18,"f":0.025},{"x":5.8,"f":0.013},{"x":6.42,"f":0.007},{"x":7.26,"f":0.0035},{"x":8.3,"f":0.003},{"x":15,"f":0.003}]},
  "mark":{"type":"line","color":"#ee1c25","strokeWidth":1.6,"interpolate":"monotone"},"encoding":{"x":{"field":"x","type":"quantitative"},"y":{"field":"f","type":"quantitative"}}},
 {"data":{"values":[{}]},"mark":{"type":"text","fontSize":14,"color":"#000"},"encoding":{"x":{"datum":6.5,"type":"quantitative"},"y":{"datum":0.153,"type":"quantitative"},"text":{"value":"10 AP"}}},
 {"data":{"values":[{}]},"mark":{"type":"text","fontSize":21,"fontWeight":"bold","color":"#000"},"encoding":{"x":{"datum":-7.5,"type":"quantitative"},"y":{"datum":0.174,"type":"quantitative"},"text":{"value":"E"}}}
 ]},
{"width":56,"height":1,"data":{"values":[]},"mark":"point","encoding":{}},
{"width":141,"height":113,
 "layer":[
 {"data":{"values":[{"a":-0.27,"b":-0.2,"f":0.009},{"a":-0.2,"b":-0.1,"f":0.002},{"a":-0.1,"b":0,"f":0.014},{"a":0,"b":0.1,"f":0.054},{"a":0.1,"b":0.2,"f":0.09},{"a":0.2,"b":0.3,"f":0.127},{"a":0.3,"b":0.4,"f":0.148},{"a":0.4,"b":0.5,"f":0.133},{"a":0.5,"b":0.6,"f":0.073},{"a":0.6,"b":0.7,"f":0.089},{"a":0.7,"b":0.8,"f":0.086},{"a":0.8,"b":0.9,"f":0.021},{"a":0.9,"b":1,"f":0.035},{"a":1,"b":1.1,"f":0.032},{"a":1.1,"b":1.2,"f":0.015},{"a":1.2,"b":1.3,"f":0.009},{"a":1.3,"b":1.4,"f":0.014},{"a":1.4,"b":1.5,"f":0.014},{"a":1.5,"b":1.6,"f":0.008},{"a":1.6,"b":1.7,"f":0.004},{"a":1.7,"b":1.8,"f":0.003},{"a":1.8,"b":1.9,"f":0.003},{"a":1.9,"b":2,"f":0.002},{"a":2,"b":2.1,"f":0.003},{"a":2.1,"b":2.2,"f":0.003},{"a":2.2,"b":2.3,"f":0.002}]},
  "mark":{"type":"rect","fill":"#dcdcdc","stroke":"#bdbdbd","strokeWidth":0.6},"encoding":{"x":{"field":"a","type":"quantitative","scale":{"domain":[-0.27,2.5],"nice":false,"zero":false},"axis":{"title":"ΔF / F₀","titleFontSize":14,"titlePadding":-5,"labelOverlap":false,"tickCount":30,"values":[0,0.5,1,1.5,2,2.5],"format":".1f"}},"x2":{"field":"b"},"y":{"field":"f","type":"quantitative","scale":{"domain":[0,0.2],"nice":false},"axis":{"title":"Relative Frequency","titleFontSize":13,"titlePadding":-1,"labelOverlap":false,"tickCount":30,"values":[0,0.05,0.1,0.15,0.2],"format":".2f"}},"y2":{"datum":0}}},
 {"data":{"values":[{"x":-0.22,"f":0.011},{"x":-0.125,"f":0.021},{"x":-0.03,"f":0.039},{"x":0.07,"f":0.068},{"x":0.17,"f":0.101},{"x":0.27,"f":0.124},{"x":0.366,"f":0.133},{"x":0.43,"f":0.134},{"x":0.5,"f":0.128},{"x":0.59,"f":0.104},{"x":0.69,"f":0.068},{"x":0.79,"f":0.039},{"x":0.89,"f":0.021},{"x":0.99,"f":0.012},{"x":1.12,"f":0.006},{"x":1.31,"f":0.005},{"x":2.42,"f":0.005}]},
  "mark":{"type":"line","color":"#ee1c25","strokeWidth":1.6,"interpolate":"monotone"},"encoding":{"x":{"field":"x","type":"quantitative"},"y":{"field":"f","type":"quantitative"}}},
 {"data":{"values":[{}]},"mark":{"type":"text","fontSize":14,"color":"#000"},"encoding":{"x":{"datum":1.02,"type":"quantitative"},"y":{"datum":0.204,"type":"quantitative"},"text":{"value":"1 AP"}}},
 {"data":{"values":[{}]},"mark":{"type":"text","fontSize":21,"fontWeight":"bold","color":"#000"},"encoding":{"x":{"datum":-1.05,"type":"quantitative"},"y":{"datum":0.232,"type":"quantitative"},"text":{"value":"F"}}}
 ]}
],"spacing":0,"bounds":"flush"},

{"width":1,"height":1,"data":{"values":[]},"mark":"point","encoding":{}},

{"hconcat":[
{"width":68,"height":1,"data":{"values":[]},"mark":"point","encoding":{}},
{"width":553,"height":152,
 "layer":[
 {"data":{"values":[{"k":1.012,"f":0.06},{"k":1.06,"f":0.05},{"k":1.106,"f":0.06},{"k":1.16,"f":0.03},{"k":1.208,"f":0.04},{"k":1.26,"f":0.015},{"k":1.302,"f":0.03},{"k":1.35,"f":0.0},{"k":1.396,"f":-0.007},{"k":1.44,"f":-0.025},{"k":1.49,"f":-0.02},{"k":1.506,"f":0.333},{"k":1.522,"f":1.267},{"k":1.537,"f":0.9},{"k":1.553,"f":1.333},{"k":1.576,"f":1.933},{"k":1.6,"f":1.533},{"k":1.631,"f":1.067},{"k":1.694,"f":0.833},{"k":1.788,"f":0.567},{"k":1.929,"f":0.367},{"k":2.0,"f":0.31},{"k":2.086,"f":0.267},{"k":2.16,"f":0.205},{"k":2.243,"f":0.18},{"k":2.32,"f":0.175},{"k":2.4,"f":0.133},{"k":2.48,"f":0.145},{"k":2.557,"f":0.105},{"k":2.63,"f":0.085},{"k":2.714,"f":0.095},{"k":2.79,"f":0.06},{"k":2.871,"f":0.045},{"k":2.95,"f":0.08},{"k":3.027,"f":0.06},{"k":3.1,"f":0.035},{"k":3.184,"f":0.025},{"k":3.26,"f":0.01},{"k":3.341,"f":-0.013},{"k":3.42,"f":0.005},{"k":3.514,"f":0.02}]},"mark":{"type":"line","color":"#555555","strokeWidth":1.2},"encoding":{"x":{"field":"k","type":"quantitative","scale":{"domain":[0,13],"nice":false,"zero":false},"axis":{"title":null,"tickCount":30,"values":[1,2,3,4,5,6,7,8,9,10,11,12,13],"labelExpr":"datum.value==2?'50 ms':datum.value==5?'100 ms':datum.value==8?'200 ms':datum.value==11?'500 ms':''","labelFontSize":17.5,"labelPadding":3,"labelOverlap":false}},"y":{"field":"f","type":"quantitative","axis":null,"scale":{"domain":[-0.2,2.84],"nice":false,"zero":false}}}},
 {"data":{"values":[{"k":4.016,"f":0.02},{"k":4.07,"f":0.04},{"k":4.125,"f":0.053},{"k":4.18,"f":0.03},{"k":4.243,"f":0.04},{"k":4.3,"f":0.02},{"k":4.361,"f":0},{"k":4.42,"f":0.01},{"k":4.478,"f":-0.033},{"k":4.494,"f":0.333},{"k":4.518,"f":1.4},{"k":4.549,"f":1},{"k":4.588,"f":0.667},{"k":4.596,"f":1},{"k":4.612,"f":1.933},{"k":4.651,"f":1.333},{"k":4.714,"f":0.933},{"k":4.792,"f":0.667},{"k":4.871,"f":0.5},{"k":4.95,"f":0.44},{"k":5.027,"f":0.367},{"k":5.1,"f":0.3},{"k":5.184,"f":0.267},{"k":5.26,"f":0.26},{"k":5.341,"f":0.233},{"k":5.42,"f":0.19},{"k":5.498,"f":0.18},{"k":5.57,"f":0.13},{"k":5.655,"f":0.145},{"k":5.73,"f":0.105},{"k":5.812,"f":0.12},{"k":5.89,"f":0.085},{"k":5.969,"f":0.095},{"k":6.05,"f":0.07},{"k":6.125,"f":0.09},{"k":6.2,"f":0.06},{"k":6.282,"f":0.075},{"k":6.4,"f":0.05},{"k":6.518,"f":0.06}]},"mark":{"type":"line","color":"#e8474c","strokeWidth":1.2},"encoding":{"x":{"field":"k","type":"quantitative"},"y":{"field":"f","type":"quantitative"}}},
 {"data":{"values":[{"k":7.027,"f":0.08},{"k":7.09,"f":0.055},{"k":7.145,"f":0.06},{"k":7.2,"f":0.03},{"k":7.263,"f":0.04},{"k":7.32,"f":0.01},{"k":7.38,"f":0.01},{"k":7.43,"f":-0.02},{"k":7.475,"f":-0.033},{"k":7.49,"f":0.333},{"k":7.514,"f":1.633},{"k":7.553,"f":1.067},{"k":7.616,"f":0.667},{"k":7.694,"f":0.433},{"k":7.702,"f":1},{"k":7.718,"f":1.933},{"k":7.749,"f":1.333},{"k":7.812,"f":0.933},{"k":7.89,"f":0.633},{"k":8.047,"f":0.4},{"k":8.12,"f":0.32},{"k":8.204,"f":0.28},{"k":8.28,"f":0.23},{"k":8.361,"f":0.2},{"k":8.42,"f":0.17},{"k":8.478,"f":0.12},{"k":8.55,"f":0.15},{"k":8.635,"f":0.125},{"k":8.71,"f":0.135},{"k":8.792,"f":0.09},{"k":8.87,"f":0.08},{"k":8.949,"f":0.045},{"k":9.03,"f":0.075},{"k":9.106,"f":0.05},{"k":9.18,"f":0.06},{"k":9.263,"f":0.02},{"k":9.38,"f":0.03},{"k":9.514,"f":0}]},"mark":{"type":"line","color":"#2a6fd6","strokeWidth":1.2},"encoding":{"x":{"field":"k","type":"quantitative"},"y":{"field":"f","type":"quantitative"}}},
 {"data":{"values":[{"k":10.024,"f":0.067},{"k":10.09,"f":0.05},{"k":10.165,"f":0.075},{"k":10.22,"f":0.035},{"k":10.282,"f":0.02},{"k":10.34,"f":0.03},{"k":10.4,"f":-0.013},{"k":10.45,"f":-0.005},{"k":10.486,"f":-0.033},{"k":10.494,"f":0.467},{"k":10.51,"f":1.853},{"k":10.541,"f":1.133},{"k":10.596,"f":0.733},{"k":10.714,"f":0.467},{"k":10.831,"f":0.333},{"k":10.988,"f":0.2},{"k":10.996,"f":1},{"k":11.012,"f":1.933},{"k":11.043,"f":1.333},{"k":11.106,"f":0.867},{"k":11.184,"f":0.567},{"k":11.302,"f":0.433},{"k":11.36,"f":0.35},{"k":11.42,"f":0.3},{"k":11.5,"f":0.27},{"k":11.576,"f":0.225},{"k":11.65,"f":0.19},{"k":11.733,"f":0.175},{"k":11.81,"f":0.13},{"k":11.89,"f":0.145},{"k":11.97,"f":0.11},{"k":12.047,"f":0.13},{"k":12.12,"f":0.09},{"k":12.204,"f":0.1},{"k":12.28,"f":0.075},{"k":12.361,"f":0.09},{"k":12.43,"f":0.055},{"k":12.502,"f":0.033}]},"mark":{"type":"line","color":"#3aa76d","strokeWidth":1.2},"encoding":{"x":{"field":"k","type":"quantitative"},"y":{"field":"f","type":"quantitative"}}},
 {"data":{"values":[{"k":1.475,"f":2.833,"e":2.25},{"k":1.561,"f":2.62,"e":2.05},{"k":4.463,"f":2.833,"e":2.25},{"k":4.612,"f":2.62,"e":2.05},{"k":7.42,"f":2.833,"e":2.25},{"k":7.718,"f":2.62,"e":2.05},{"k":10.478,"f":2.833,"e":2.25},{"k":10.996,"f":2.62,"e":2.05}]},"mark":{"type":"rule","color":"#000","strokeWidth":1.6},"encoding":{"x":{"field":"k","type":"quantitative"},"y":{"field":"f","type":"quantitative"},"y2":{"field":"e"}}},
 {"data":{"values":[{"k":1.475,"f":2.293},{"k":1.561,"f":2.093},{"k":4.463,"f":2.293},{"k":4.612,"f":2.093},{"k":7.42,"f":2.293},{"k":7.718,"f":2.093},{"k":10.478,"f":2.293},{"k":10.996,"f":2.093}]},"mark":{"type":"point","shape":"triangle-down","size":100,"filled":true,"color":"#000","opacity":1},"encoding":{"x":{"field":"k","type":"quantitative"},"y":{"field":"f","type":"quantitative"}}},
 {"data":{"values":[{}]},"mark":{"type":"text","fontSize":21,"fontWeight":"bold","color":"#000","align":"left"},"encoding":{"x":{"datum":-1.6,"type":"quantitative"},"y":{"datum":2.34,"type":"quantitative"},"text":{"value":"G"}}},
 {"data":{"values":[{}]},"mark":{"type":"text","fontSize":20,"color":"#000","align":"left"},"encoding":{"x":{"datum":-1.6,"type":"quantitative"},"y":{"datum":-0.28,"type":"quantitative"},"text":{"value":"Pulse"}}},
 {"data":{"values":[{}]},"mark":{"type":"text","fontSize":20,"color":"#000","align":"left"},"encoding":{"x":{"datum":-1.6,"type":"quantitative"},"y":{"datum":-0.76,"type":"quantitative"},"text":{"value":"interval"}}}
 ]}
],"spacing":0,"bounds":"flush"}
]
}
